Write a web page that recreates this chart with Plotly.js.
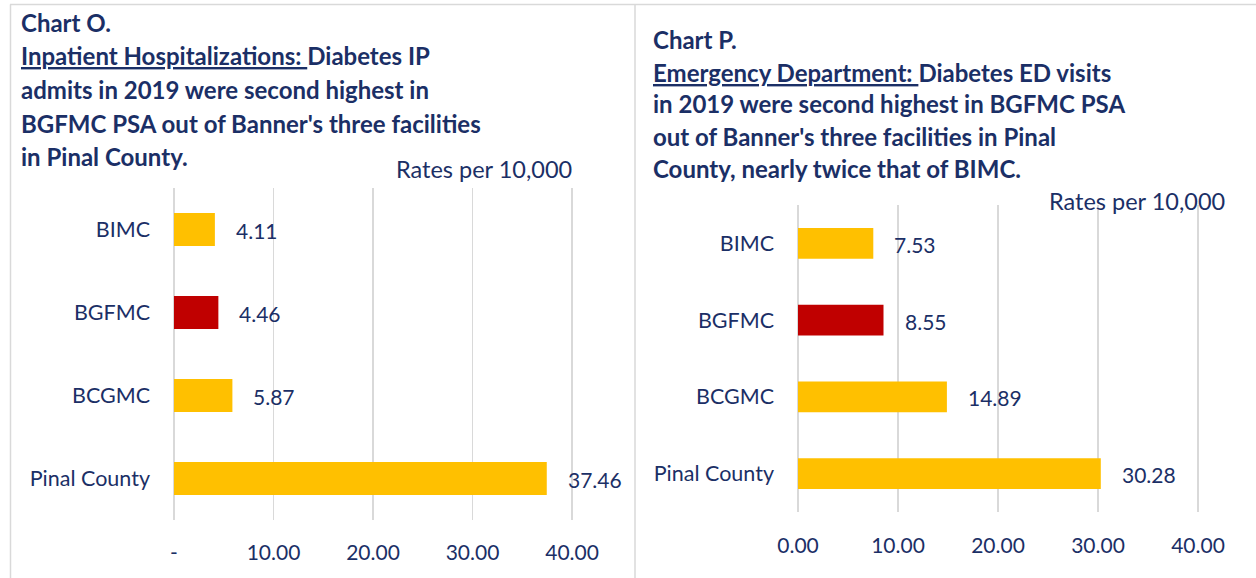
<!DOCTYPE html>
<html>
<head>
<meta charset="utf-8">
<script src="https://cdn.plot.ly/plotly-3.0.1.min.js"></script>
<style>html,body{margin:0;padding:0;background:#fff;}#chart{width:1256px;height:578px;}</style>
</head>
<body>
<div id="chart"></div>
<script>
// ---- data ----
const categories = ["BIMC", "BGFMC", "BCGMC", "Pinal County"];
const ipRates = [4.11, 4.46, 5.87, 37.46];   // Chart O
const edRates = [7.53, 8.55, 14.89, 30.28];  // Chart P
const tickValues = [0, 10, 20, 30, 40];
const ipTickText = ["-", "10.00", "20.00", "30.00", "40.00"];
const edTickText = ["0.00", "10.00", "20.00", "30.00", "40.00"];
const titleO = [
  "Chart O.",
  "<u>Inpatient Hospitalizations:\u00a0</u>Diabetes IP",
  "admits in 2019 were second highest in",
  "BGFMC PSA out of Banner's three facilities",
  "in Pinal County."
];
const titleP = [
  "Chart P.",
  "<u>Emergency Department:\u00a0</u>Diabetes ED visits",
  "in 2019 were second highest in BGFMC PSA",
  "out of Banner's three facilities in Pinal",
  "County, nearly twice that of BIMC."
];
const unitLabel = "Rates per 10,000";

// ---- styles ----
const W = 1256, H = 578;
const NAVY = "#1B2F66";
const barColors = ["#FFC000", "#C00000", "#FFC000", "#FFC000"];
const FONT = "Lato, 'Noto Sans', sans-serif";
const px = v => v / W;
const py = v => 1 - v / H;

const traces = [
  {type: "bar", orientation: "h", x: ipRates, y: categories, xaxis: "x", yaxis: "y",
   marker: {color: barColors}, width: 0.4, hoverinfo: "x+y"},
  {type: "bar", orientation: "h", x: edRates, y: categories, xaxis: "x2", yaxis: "y2",
   marker: {color: barColors}, width: 0.4, hoverinfo: "x+y"}
];

function xAxis(domain, ticktext, anchor, standoff) {
  return {domain: domain, anchor: anchor, range: [-0.3, 41], tickmode: "array",
    tickvals: tickValues, ticktext: ticktext, showgrid: true, gridcolor: "#D9D9D9",
    gridwidth: 1.5, zeroline: false, showline: false, ticks: "", ticklabelstandoff: standoff,
    tickfont: {family: FONT, size: 21, color: NAVY}, fixedrange: true};
}
function yAxis(domain, anchor) {
  return {domain: domain, anchor: anchor, type: "category", categoryorder: "array",
    categoryarray: categories, autorange: "reversed", showgrid: false, zeroline: false,
    showline: false, ticks: "", ticklabelstandoff: 20,
    tickfont: {family: FONT, size: 21.5, color: NAVY}, fixedrange: true};
}

const annotations = [];
function addTitle(lines, x0, y0, step) {
  lines.forEach((t, i) => annotations.push({
    xref: "paper", yref: "paper", x: px(x0), y: py(y0 + i * step), xanchor: "left", yanchor: "middle",
    text: "<b>" + t + "</b>", showarrow: false, font: {family: FONT, size: 24, color: NAVY}
  }));
}
addTitle(titleO, 19, 22, 33.7);
addTitle(titleP, 651, 40, 32);
annotations.push({xref: "paper", yref: "paper", x: px(574), y: py(169), xanchor: "right", yanchor: "middle",
  text: unitLabel, showarrow: false, font: {family: FONT, size: 23.5, color: NAVY}});
annotations.push({xref: "paper", yref: "paper", x: px(1227), y: py(201), xanchor: "right", yanchor: "middle",
  text: unitLabel, showarrow: false, font: {family: FONT, size: 23.5, color: NAVY}});
function addLabels(vals, xr, yr) {
  vals.forEach((v, i) => annotations.push({
    xref: xr, yref: yr, x: v, y: categories[i], xanchor: "left", yanchor: "middle", xshift: 19, yshift: -1,
    text: v.toFixed(2), showarrow: false, font: {family: FONT, size: 21, color: NAVY}
  }));
}
addLabels(ipRates, "x", "y");
addLabels(edRates, "x2", "y2");

const borderLine = {color: "#D9D9D9", width: 1.5};
const shapes = [
  {type: "line", xref: "paper", yref: "paper", x0: px(10), x1: 1, y0: py(4.5), y1: py(4.5), line: borderLine},
  {type: "line", xref: "paper", yref: "paper", x0: px(10.5), x1: px(10.5), y0: py(4.5), y1: 0, line: borderLine},
  {type: "line", xref: "paper", yref: "paper", x0: px(635), x1: px(635), y0: py(4.5), y1: 0, line: borderLine}
];

const layout = {
  width: W, height: H, margin: {l: 0, r: 0, t: 0, b: 0},
  paper_bgcolor: "#fff", plot_bgcolor: "#fff", showlegend: false,
  font: {family: FONT, color: NAVY},
  xaxis: xAxis([px(171), px(582)], ipTickText, "y", 18),
  yaxis: yAxis([py(520), py(188)], "x"),
  xaxis2: xAxis([px(795), px(1208)], edTickText, "y2", 19),
  yaxis2: yAxis([py(512), py(205)], "x2"),
  annotations: annotations, shapes: shapes
};

Plotly.newPlot("chart", traces, layout, {displayModeBar: false, staticPlot: true});
</script>
</body>
</html>
